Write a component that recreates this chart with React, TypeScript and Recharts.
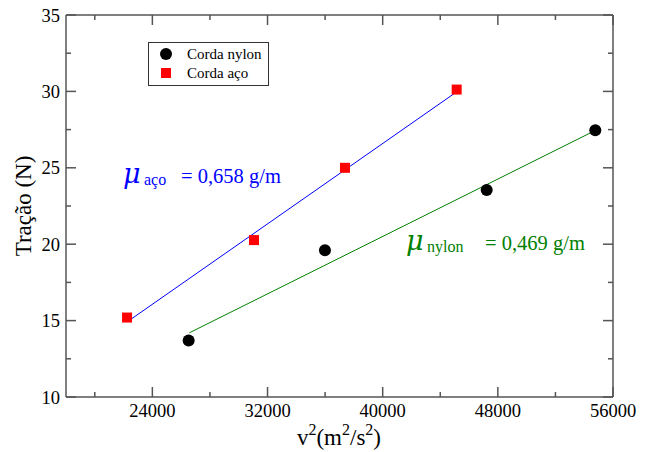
import React from "react";
import { ComposedChart, XAxis, YAxis, Scatter, Line, Legend } from "recharts";

const nylonX = [26520, 35990, 47225, 54770];
const nylonY = [13.7, 19.6, 23.55, 27.45];
const acoX = [22240, 31060, 37380, 45140];
const acoY = [15.2, 20.27, 25.0, 30.12];
const acoFitX = [22300, 45140];
const acoFitY = [14.95, 29.97];
const nylonFitX = [26570, 54720];
const nylonFitY = [14.2, 27.42];
const xTicks = [20000, 24000, 28000, 32000, 36000, 40000, 44000, 48000, 52000, 56000];
const yTicks = [10, 12.5, 15, 17.5, 20, 22.5, 25, 27.5, 30, 32.5, 35];

const nylonData = nylonX.map((x, i) => ({ x, y: nylonY[i] }));
const acoData = acoX.map((x, i) => ({ x, y: acoY[i] }));
const acoFit = acoFitX.map((x, i) => ({ x, y: acoFitY[i] }));
const nylonFit = nylonFitX.map((x, i) => ({ x, y: nylonFitY[i] }));

const FONT = "'Liberation Serif', 'Times New Roman', serif";
const MUFONT = "'DejaVu Serif', serif";
const AXIS = "#555555";

const BottomTick = (p: any) => {
  const { x, y, payload } = p;
  const major = payload.value % 8000 === 0;
  return (
    <g>
      <line x1={x} y1={y} x2={x} y2={y - (major ? 10 : 5)} stroke={AXIS} strokeWidth={1.5} />
      {major && (
        <text x={x} y={y + 20} textAnchor="middle" fontSize={18.5} fontFamily={FONT} fill="#000">
          {payload.value}
        </text>
      )}
    </g>
  );
};
const TopTick = (p: any) => {
  const { x, y, payload } = p;
  const major = payload.value % 8000 === 0;
  return <line x1={x} y1={y} x2={x} y2={y + (major ? 10 : 5)} stroke={AXIS} strokeWidth={1.5} />;
};
const LeftTick = (p: any) => {
  const { x, y, payload } = p;
  const major = payload.value % 5 === 0;
  return (
    <g>
      <line x1={x} y1={y} x2={x + (major ? 10 : 5)} y2={y} stroke={AXIS} strokeWidth={1.5} />
      {major && (
        <text x={x - 6} y={y + 6.5} textAnchor="end" fontSize={18.5} fontFamily={FONT} fill="#000">
          {payload.value}
        </text>
      )}
    </g>
  );
};
const RightTick = (p: any) => {
  const { x, y, payload } = p;
  const major = payload.value % 5 === 0;
  return <line x1={x} y1={y} x2={x - (major ? 10 : 5)} y2={y} stroke={AXIS} strokeWidth={1.5} />;
};

const CircleShape = (p: any) => <circle cx={p.cx} cy={p.cy} r={6} fill="#000" />;
const SquareShape = (p: any) => <rect x={p.cx - 5} y={p.cy - 5} width={10} height={10} fill="#ff0000" />;

const LegendBox = () => (
  <svg width={122} height={45} style={{ display: "block" }}>
    <rect x={0.5} y={0.5} width={120} height={43} fill="#fff" stroke="#333" strokeWidth={1} />
    <circle cx={18} cy={12} r={6} fill="#000" />
    <text x={39} y={17} fontSize={15} fontFamily={FONT} fill="#000">Corda nylon</text>
    <rect x={13} y={26} width={10} height={10} fill="#ff0000" />
    <text x={39} y={36} fontSize={15} fontFamily={FONT} fill="#000">Corda aço</text>
  </svg>
);

export default function App() {
  return (
    <div style={{ position: "absolute", left: 0, top: 0, width: 647, height: 452, background: "#fff" }}>
      <ComposedChart width={647} height={452} margin={{ top: 10, right: 29, bottom: 0, left: 0 }}>
        <XAxis xAxisId="b" dataKey="x" type="number" domain={[18000, 56000]} ticks={xTicks} interval={0}
          height={55} tickSize={0} tickMargin={0} tickLine={false} tick={<BottomTick />}
          axisLine={{ stroke: AXIS, strokeWidth: 1.5 }} allowDataOverflow />
        <XAxis xAxisId="t" orientation="top" dataKey="x" type="number" domain={[18000, 56000]} ticks={xTicks} interval={0}
          height={5} tickSize={0} tickMargin={0} tickLine={false} tick={<TopTick />}
          axisLine={{ stroke: AXIS, strokeWidth: 1.5 }} allowDataOverflow />
        <YAxis yAxisId="l" type="number" domain={[10, 35]} ticks={yTicks} interval={0}
          width={66} tickSize={0} tickMargin={0} tickLine={false} tick={<LeftTick />}
          axisLine={{ stroke: AXIS, strokeWidth: 1.5 }} allowDataOverflow />
        <YAxis yAxisId="r" orientation="right" type="number" domain={[10, 35]} ticks={yTicks} interval={0}
          width={5} tickSize={0} tickMargin={0} tickLine={false} tick={<RightTick />}
          axisLine={{ stroke: AXIS, strokeWidth: 1.5 }} allowDataOverflow />
        <Line xAxisId="b" yAxisId="l" data={acoFit} dataKey="y" type="linear" stroke="#0000ff" strokeWidth={1}
          dot={false} activeDot={false} isAnimationActive={false} legendType="none" />
        <Line xAxisId="b" yAxisId="l" data={nylonFit} dataKey="y" type="linear" stroke="#008000" strokeWidth={1}
          dot={false} activeDot={false} isAnimationActive={false} legendType="none" />
        <Scatter xAxisId="b" yAxisId="l" name="Corda nylon" data={nylonData} dataKey="y" shape={<CircleShape />}
          isAnimationActive={false} />
        <Scatter xAxisId="b" yAxisId="l" name="Corda aço" data={acoData} dataKey="y" shape={<SquareShape />}
          isAnimationActive={false} />
        <Legend layout="horizontal" verticalAlign="middle" align="center" content={() => <LegendBox />}
          wrapperStyle={{ position: "absolute", left: 148, top: 42, width: 122, height: 45 }} />
      </ComposedChart>
      <svg width={647} height={452} style={{ position: "absolute", left: 0, top: 0, pointerEvents: "none" }}>
        <text x={31} y={206} transform="rotate(-90 31 206)" textAnchor="middle" fontSize={23} fontFamily={FONT} fill="#000">
          Tração (N)
        </text>
        <text x={339} y={445} textAnchor="middle" fontSize={23} fontFamily={FONT} fill="#000">
          <tspan>v</tspan>
          <tspan fontSize={16} dy={-10}>2</tspan>
          <tspan dy={10}>(m</tspan>
          <tspan fontSize={16} dy={-10}>2</tspan>
          <tspan dy={10}>/s</tspan>
          <tspan fontSize={16} dy={-10}>2</tspan>
          <tspan dy={10}>)</tspan>
        </text>
        <g fill="#0000ff">
          <text x={123} y={183} fontSize={27} fontStyle="italic" fontFamily={MUFONT}>μ</text>
          <text x={144} y={185} fontSize={16} fontFamily={FONT}>aço</text>
          <text x={181} y={183} fontSize={20.5} fontFamily={FONT}>= 0,658 g/m</text>
        </g>
        <g fill="#008000">
          <text x={406} y={250} fontSize={27} fontStyle="italic" fontFamily={MUFONT}>μ</text>
          <text x={427} y={252} fontSize={16} fontFamily={FONT}>nylon</text>
          <text x={485} y={250} fontSize={20.5} fontFamily={FONT}>= 0,469 g/m</text>
        </g>
      </svg>
    </div>
  );
}
